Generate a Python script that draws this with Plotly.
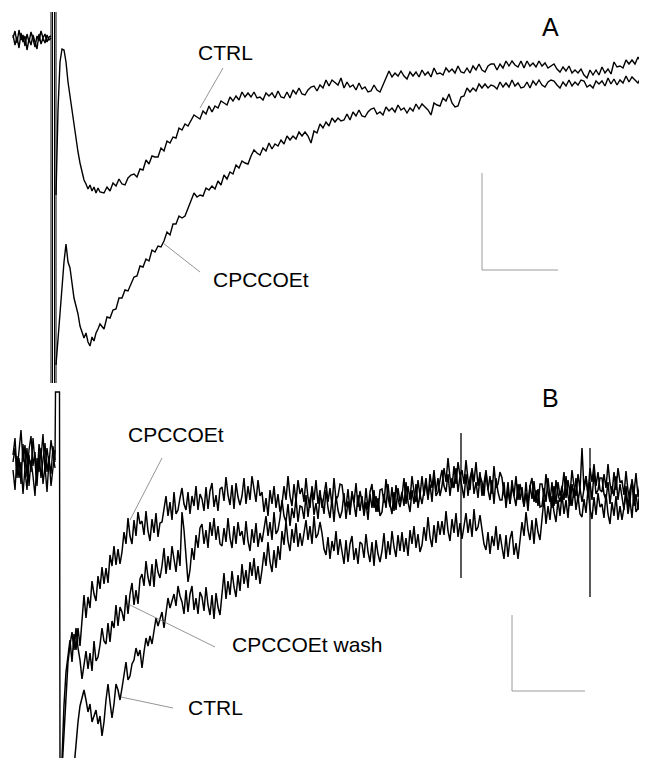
import numpy as np
import plotly.graph_objects as go

# ---------------- DATA (time in sample units, amplitude in image units; y grows downward) -------------
# Panel A - pre-stimulus baseline (t = 13..51 step 2)
a_base_t = np.arange(13, 52, 2)
a_ctrl_base = [38, 31, 43, 30, 40, 35, 46, 34, 42, 32, 39, 47, 36, 41, 31, 38, 34, 42, 37, 36]
a_cpcc_base = [35, 45, 37, 48, 33, 42, 36, 50, 39, 45, 35, 41, 49, 34, 44, 38, 43, 35, 40, 38]

# Panel A - early response (t = 56..100 step 2)
a_early_t = np.arange(56, 101, 2)
a_ctrl_early = [195, 110, 62, 49, 50, 62, 82, 97, 112, 126, 140, 152, 163, 173, 180, 184,
                189, 185, 191, 187, 193, 188, 192]
a_cpcc_early = [365, 338, 310, 285, 262, 244, 262, 268, 284, 298, 306, 314, 326, 331, 338, 333,
                342, 346, 337, 341, 333, 329, 324]

# Panel A - late response (t = 104..644 step 3)
a_late_t = np.arange(104, 645, 3)
a_ctrl_late = [193, 187, 191, 183, 186, 179, 184, 185, 178, 175,
               174, 177, 169, 170, 160, 164, 156, 157, 157, 148,
               151, 141, 143, 137, 138, 128, 130, 124, 126, 121,
               115, 117, 119, 111, 114, 106, 112, 106, 108, 101,
               103, 105, 97, 101, 96, 100, 92, 97, 93, 97,
               92, 98, 97, 100, 93, 96, 93, 98, 91, 97,
               98, 92, 98, 90, 94, 88, 94, 95, 90, 87,
               86, 91, 85, 88, 80, 86, 80, 83, 85, 78,
               88, 82, 87, 85, 90, 83, 89, 87, 92, 91,
               85, 90, 92, 85, 78, 71, 77, 73, 76, 71,
               76, 79, 72, 76, 72, 77, 70, 75, 72, 77,
               68, 74, 73, 75, 68, 72, 69, 73, 66, 72,
               73, 68, 73, 66, 70, 64, 70, 72, 66, 64,
               64, 70, 64, 68, 61, 66, 61, 65, 67, 61,
               68, 61, 66, 63, 67, 61, 66, 63, 68, 66,
               64, 69, 72, 67, 71, 66, 73, 70, 73, 69,
               75, 78, 70, 75, 70, 75, 67, 73, 69, 74,
               62, 67, 66, 68, 60, 64, 60, 64, 57, 62,
               61]
a_cpcc_late = [329, 317, 318, 310, 309, 298, 298, 290, 291, 284,
               277, 276, 266, 267, 259, 261, 250, 252, 246, 247,
               241, 232, 235, 224, 224, 216, 218, 216, 208, 202,
               193, 197, 195, 196, 188, 190, 186, 189, 181, 185,
               175, 179, 172, 174, 165, 168, 161, 163, 164, 156,
               150, 153, 155, 148, 151, 143, 149, 144, 146, 140,
               144, 136, 140, 136, 139, 132, 136, 132, 136, 143,
               131, 133, 124, 128, 122, 126, 118, 122, 118, 121,
               120, 114, 120, 112, 116, 110, 116, 117, 112, 109,
               108, 114, 112, 115, 107, 111, 108, 112, 105, 110,
               108, 113, 108, 111, 104, 109, 104, 107, 110, 115,
               103, 105, 106, 98, 101, 94, 103, 107, 106, 97,
               96, 88, 92, 88, 91, 84, 88, 84, 88, 85,
               86, 89, 82, 87, 83, 87, 80, 86, 83, 88,
               87, 82, 88, 81, 85, 80, 85, 87, 82, 80,
               81, 85, 88, 82, 86, 80, 86, 82, 85, 80,
               81, 87, 85, 88, 81, 84, 81, 86, 78, 84,
               79, 85, 80, 83, 76, 82, 77, 80, 83, 77,
               79]

# Stimulus artefact, panel A
a_art_t = [51, 52.5, 54.5, 56]
a_art_top = 12
a_art_bottom = 383

# Panel B - baseline (t = 13..55 step 2)
b_base_t = np.arange(13, 56, 2)
b_base1 = [455, 438, 472, 448, 430, 462, 445, 477, 450, 436, 466, 452, 482, 444, 458, 434, 470, 448, 464, 440, 455, 468]
b_base2 = [470, 490, 456, 478, 462, 494, 468, 448, 486, 460, 476, 496, 458, 472, 448, 484, 466, 492, 460, 474, 446, 462]
b_base3 = [462, 448, 478, 458, 484, 444, 470, 490, 455, 472, 438, 465, 486, 452, 478, 460, 443, 472, 456, 486, 466, 450]

# Stimulus artefact, panel B
b_art_t = [55, 55.5, 59.5, 60]
b_art_v = [460, 392, 392, 770]

# Panel B - responses (t = 62..646 step 2)
b_t = np.arange(62, 647, 2)
b_cpcc = [760, 705, 672, 655, 640, 662, 634, 650, 628, 646,
          616, 595, 618, 597, 608, 581, 594, 601, 576, 589,
          567, 584, 568, 583, 555, 566, 546, 565, 549, 564,
          552, 532, 544, 518, 536, 544, 520, 536, 512, 524,
          521, 535, 511, 531, 541, 519, 533, 513, 537, 523,
          522, 506, 496, 516, 502, 520, 492, 514, 510, 498,
          488, 504, 510, 492, 514, 496, 506, 486, 510, 494,
          499, 511, 487, 509, 491, 483, 507, 495, 511, 489,
          487, 501, 477, 495, 505, 485, 509, 483, 497, 505,
          496, 478, 504, 486, 500, 476, 492, 502, 480, 496,
          492, 512, 498, 516, 490, 504, 486, 508, 494, 512,
          504, 486, 500, 476, 496, 506, 484, 502, 480, 494,
          488, 502, 478, 498, 508, 486, 500, 480, 504, 490,
          508, 492, 482, 502, 488, 506, 478, 500, 496, 484,
          485, 501, 507, 489, 511, 493, 503, 483, 507, 491,
          500, 512, 488, 510, 492, 484, 508, 496, 512, 490,
          489, 503, 479, 497, 507, 487, 511, 485, 499, 507,
          496, 478, 504, 486, 500, 476, 492, 502, 480, 496,
          476, 496, 482, 500, 474, 488, 470, 492, 478, 496,
          486, 468, 482, 458, 478, 488, 466, 484, 462, 476,
          470, 484, 460, 480, 490, 468, 482, 462, 486, 472,
          496, 480, 470, 490, 476, 494, 466, 488, 484, 472,
          478, 494, 500, 482, 504, 486, 496, 476, 500, 484,
          494, 506, 482, 504, 486, 478, 502, 490, 506, 484,
          484, 498, 474, 492, 502, 482, 506, 480, 494, 502,
          490, 472, 498, 480, 494, 470, 486, 496, 474, 490,
          448, 490, 476, 494, 468, 482, 464, 486, 472, 490,
          492, 474, 488, 464, 484, 494, 472, 490, 468, 482,
          481, 495, 471, 491, 501, 479, 493, 473, 497, 483,
          496, 480, 494]
b_wash = [770, 730, 690, 662, 645, 632, 650, 628, 648, 660,
          679, 663, 651, 669, 653, 671, 641, 661, 657, 645,
          628, 641, 644, 623, 642, 621, 628, 605, 626, 607,
          612, 621, 595, 614, 594, 583, 605, 590, 604, 579,
          574, 586, 561, 577, 586, 564, 587, 559, 572, 578,
          566, 548, 574, 556, 570, 546, 562, 572, 550, 566,
          512, 530, 556, 582, 570, 548, 560, 535, 548, 528,
          524, 544, 530, 548, 522, 536, 518, 540, 526, 544,
          546, 528, 542, 518, 538, 548, 526, 544, 522, 536,
          531, 545, 521, 541, 551, 529, 543, 523, 547, 533,
          542, 526, 516, 536, 522, 540, 512, 534, 530, 518,
          500, 516, 522, 504, 526, 508, 518, 498, 522, 506,
          507, 519, 495, 517, 499, 491, 515, 503, 519, 497,
          500, 514, 490, 508, 518, 498, 522, 496, 510, 518,
          511, 493, 519, 501, 515, 491, 507, 517, 495, 511,
          496, 516, 502, 520, 494, 508, 490, 512, 498, 516,
          512, 494, 508, 484, 504, 514, 492, 510, 488, 502,
          492, 506, 482, 502, 512, 490, 504, 484, 508, 494,
          504, 488, 478, 498, 484, 502, 474, 496, 492, 480,
          470, 486, 492, 474, 496, 478, 488, 468, 492, 476,
          486, 498, 474, 496, 478, 470, 494, 482, 498, 476,
          482, 496, 472, 490, 500, 480, 504, 478, 492, 500,
          500, 482, 508, 490, 504, 480, 496, 506, 484, 500,
          487, 507, 493, 511, 485, 499, 481, 503, 489, 507,
          506, 488, 502, 478, 498, 508, 486, 504, 482, 496,
          486, 500, 476, 496, 506, 484, 498, 478, 502, 488,
          502, 486, 476, 496, 482, 500, 472, 494, 490, 478,
          478, 494, 500, 482, 504, 486, 496, 476, 500, 484,
          498, 510, 486, 508, 490, 482, 506, 494, 510, 488,
          494, 508, 486]
b_ctrl = [800, 800, 800, 800, 800, 790, 770, 745, 722, 706,
          698, 690, 700, 712, 704, 722, 716, 710, 724, 716,
          736, 722, 700, 684, 702, 718, 704, 684, 690, 700,
          688, 672, 662, 680, 676, 664, 660, 648, 656, 650,
          668, 652, 638, 646, 636, 644, 630, 618, 626, 620,
          612, 628, 614, 598, 608, 600, 594, 606, 586, 596,
          602, 614, 590, 612, 594, 586, 610, 598, 614, 592,
          597, 611, 587, 605, 615, 595, 619, 593, 607, 615,
          591, 573, 599, 581, 595, 571, 587, 597, 575, 591,
          564, 584, 570, 588, 562, 576, 558, 580, 566, 584,
          570, 552, 566, 542, 562, 572, 550, 568, 546, 560,
          531, 545, 521, 541, 551, 529, 543, 523, 547, 533,
          546, 530, 520, 540, 526, 544, 516, 538, 534, 522,
          533, 549, 555, 537, 559, 541, 551, 531, 555, 539,
          552, 564, 540, 562, 544, 536, 560, 548, 564, 542,
          544, 558, 534, 552, 562, 542, 566, 540, 554, 562,
          551, 533, 559, 541, 555, 531, 547, 557, 535, 551,
          532, 552, 538, 556, 530, 544, 526, 548, 534, 552,
          545, 527, 541, 517, 537, 547, 525, 543, 521, 535,
          521, 535, 511, 531, 541, 519, 533, 513, 537, 523,
          539, 523, 513, 533, 519, 537, 509, 531, 527, 515,
          528, 544, 550, 532, 554, 536, 546, 526, 550, 534,
          547, 559, 535, 557, 539, 531, 555, 543, 559, 537,
          522, 536, 512, 530, 540, 520, 544, 518, 532, 540,
          516, 498, 524, 506, 520, 496, 512, 522, 500, 516,
          494, 514, 500, 518, 492, 506, 488, 510, 496, 514,
          517, 499, 513, 489, 509, 519, 497, 515, 493, 507,
          504, 518, 494, 514, 524, 502, 516, 496, 520, 506,
          520, 504, 494, 514, 500, 518, 490, 512, 508, 496,
          499, 511, 495]

# Isolated spikes in panel B
spike_t = [461, 590]
spike_hi = [433, 448]
spike_lo = [578, 597]

# Labels: (text, t, v, size) and leader lines (t0, v0, t1, v1)
labels = [("CTRL", 197, 52.5, 21), ("CPCCOEt", 212, 279.5, 21), ("A", 541, 27, 25),
          ("CPCCOEt", 127, 434.5, 21), ("CPCCOEt wash", 231, 644.5, 21),
          ("CTRL", 187, 707.5, 21), ("B", 541, 398, 25)]
leaders = [(223, 68, 200, 108), (163, 243, 200, 272),
           (130, 520, 162, 458), (130, 605, 215, 647), (121, 697, 173, 708)]
# Scale bars: (corner t, corner v, vertical length, horizontal length)
scalebars = [(482, 270, 97, 76), (512, 691, 76, 73)]

# ---------------- FIGURE -------------
fig = go.Figure()
TRACE = dict(color="black", width=1.4)


def add_line(x, y, line):
    fig.add_trace(go.Scatter(x=list(x), y=list(y), mode="lines", line=line,
                             hoverinfo="skip", showlegend=False))


# Panel A
for base, early, late in [(a_ctrl_base, a_ctrl_early, a_ctrl_late),
                          (a_cpcc_base, a_cpcc_early, a_cpcc_late)]:
    add_line(a_base_t, base, TRACE)
    n = min(len(a_late_t), len(late))
    add_line(list(a_early_t) + list(a_late_t[:n]), list(early) + list(late[:n]), TRACE)

ax, ay = [], []
for t in a_art_t:
    ax += [t, t, None]
    ay += [a_art_top, a_art_bottom, None]
add_line(ax, ay, dict(color="black", width=1))

# Panel B
for base in [b_base1, b_base2, b_base3]:
    add_line(b_base_t, base, dict(color="black", width=1.4))
add_line(b_art_t, b_art_v, dict(color="black", width=1.4))
for tr in [b_ctrl, b_wash, b_cpcc]:
    n = min(len(b_t), len(tr))
    add_line(b_t[:n], tr[:n], dict(color="black", width=1.5))
sx, sy = [], []
for t, hi, lo in zip(spike_t, spike_hi, spike_lo):
    sx += [t, t, None]
    sy += [hi, lo, None]
add_line(sx, sy, dict(color="black", width=1.3))

# Leader lines
lx, ly = [], []
for t0, v0, t1, v1 in leaders:
    lx += [t0, t1, None]
    ly += [v0, v1, None]
add_line(lx, ly, dict(color="#7a7a7a", width=0.8))

# Scale bars
for t, v, vl, hl in scalebars:
    add_line([t, t, t + hl], [v - vl, v, v], dict(color="#9a9a9a", width=1))

for text, t, v, size in labels:
    fig.add_annotation(x=t, y=v, text=text, showarrow=False, xanchor="left", yanchor="middle",
                       font=dict(family="Liberation Sans, Arial, sans-serif", size=size, color="black"),
                       borderpad=0)

# The page body has an 8px margin: size the figure so it fits the 647x766 window
fig.update_layout(
    width=639, height=750, margin=dict(l=0, r=0, t=0, b=0),
    paper_bgcolor="white", plot_bgcolor="white", showlegend=False,
    xaxis=dict(range=[8, 647], visible=False, fixedrange=True),
    yaxis=dict(range=[758, 8], visible=False, fixedrange=True),
)

fig.write_html("out.html")
